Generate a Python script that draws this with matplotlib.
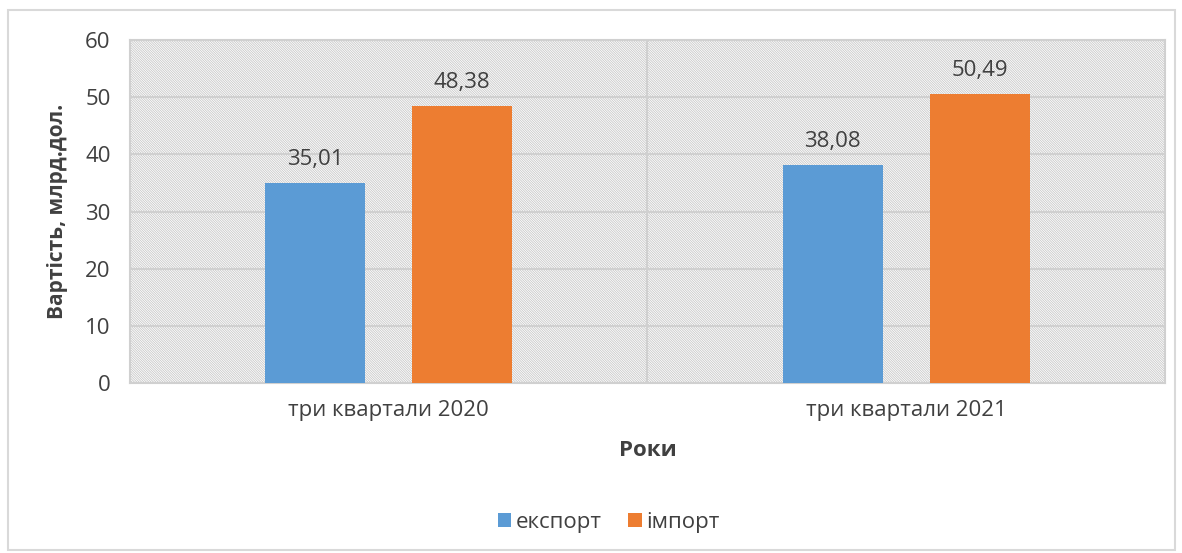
import matplotlib
matplotlib.use("Agg")
import matplotlib.pyplot as plt
from matplotlib.patches import Rectangle
import numpy as np

plt.rcParams["font.family"] = ["Open Sans", "DejaVu Sans"]
plt.rcParams["hatch.linewidth"] = 0.6

categories = ["три квартали 2020", "три квартали 2021"]
export_vals = [35.01, 38.08]
import_vals = [48.38, 50.49]
series_names = ["експорт", "імпорт"]

blue = "#5B9BD5"
orange = "#ED7D31"
text_col = "#404040"
grid_col = "#D0D0D0"

fig = plt.figure(figsize=(11.82, 5.53), dpi=100)
ax = fig.add_axes([0.110, 0.307, 0.8756, 0.621])

# hatched background
ax.add_patch(Rectangle((0, 0), 1, 1, transform=ax.transAxes, facecolor="white",
                       edgecolor="#C8C8C8", hatch="\\" * 14, linewidth=0, zorder=0))

x = np.arange(len(categories))
w = 0.194
off = 0.142
b1 = ax.bar(x - off, export_vals, w, color=blue, label=series_names[0], zorder=3)
b2 = ax.bar(x + off, import_vals, w, color=orange, label=series_names[1], zorder=3)

for bars, vals in [(b1, export_vals), (b2, import_vals)]:
    for r, v in zip(bars, vals):
        ax.text(r.get_x() + r.get_width() / 2, v + 2.3, f"{v:.2f}".replace(".", ","),
                ha="center", va="bottom", fontsize=16, color=text_col, zorder=4)

ax.set_xlim(-0.5, 1.5)
ax.set_ylim(0, 60)
ax.set_yticks(range(0, 61, 10))
ax.set_xticks(x)
ax.set_xticklabels(categories)
ax.yaxis.grid(True, color=grid_col, linewidth=1.5, zorder=1)
ax.axvline(0.5, color=grid_col, linewidth=1.5, zorder=1)
ax.tick_params(length=0, labelsize=16, labelcolor=text_col, pad=14)
ax.tick_params(axis="x", pad=12)
for s in ax.spines.values():
    s.set_color(grid_col)
    s.set_linewidth(1.5)

ax.set_xlabel("Роки", fontsize=16, fontweight="bold", color=text_col, labelpad=14)
ax.set_ylabel("Вартість, млрд.дол.", fontsize=15, fontweight="bold", color=text_col, labelpad=12)

fig.legend(handles=[b1, b2], labels=series_names, loc="center", bbox_to_anchor=(0.515, 0.055),
           ncol=2, frameon=False, fontsize=16, handlelength=0.6, handleheight=0.6,
           handletextpad=0.2, columnspacing=1.2, labelcolor=text_col)

fig.add_artist(Rectangle((0.007, 0.005), 0.987, 0.977, transform=fig.transFigure,
                         fill=False, edgecolor="#D9D9D9", linewidth=1.5))

fig.savefig("out.png", dpi=100)
